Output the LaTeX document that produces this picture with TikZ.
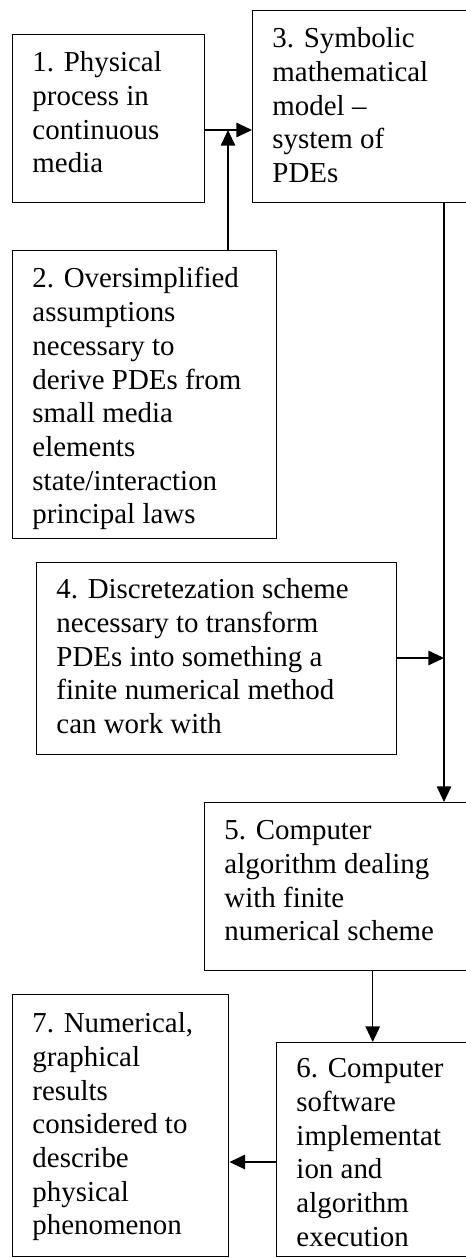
\documentclass[tikz,border=0pt]{standalone}
\usepackage{fontspec}
\setmainfont{Liberation Serif}
\usepackage{tikz}
\usetikzlibrary{positioning,arrows.meta,calc}

\begin{document}
\begin{tikzpicture}[
    x=0.415pt, y=-0.415pt,
    box/.style={draw, line width=0.6pt, anchor=north west, inner sep=0pt},
    boxtext/.style={anchor=north west, inner sep=0pt, align=left, font=\fontsize{12}{14}\selectfont},
    connector/.style={-{Triangle[length=6.5pt, width=6pt]}, line width=0.6pt}
]

% page size, boxes on the right and at the bottom run off the page
\useasboundingbox (0,0) rectangle (466,1258);
\clip (0,0) rectangle (466,1258);

% Box 1 - physical process
\node[box, minimum width=192*0.415pt, minimum height=168*0.415pt] (b1) at (12,34) {};
\node[boxtext] (t1) at (32,51) {1. Physical\\process in\\continuous\\media};

% Box 3 - symbolic model
\node[box, minimum width=228*0.415pt, minimum height=192*0.415pt] (b3) at (252,10) {};
\node[boxtext] (t3) at (272,27) {3. Symbolic\\mathematical\\model --\\system of\\PDEs};

% Box 2 - assumptions
\node[box, minimum width=264*0.415pt, minimum height=288*0.415pt] (b2) at (12,250) {};
\node[boxtext] (t2) at (32,267) {2. Oversimplified\\assumptions\\necessary to\\derive PDEs from\\small media\\elements\\state/interaction\\principal laws};

% Box 4 - discretization
\node[box, minimum width=360*0.415pt, minimum height=192*0.415pt] (b4) at (36,562) {};
\node[boxtext] (t4) at (56,578) {4. Discretezation scheme\\necessary to transform\\PDEs into something a\\finite numerical method\\can work with};

% Box 5 - algorithm
\node[box, minimum width=276*0.415pt, minimum height=168*0.415pt] (b5) at (204,802) {};
\node[boxtext] (t5) at (224,820) {5. Computer\\algorithm dealing\\with finite\\numerical scheme};

% Box 6 - software
\node[box, minimum width=192*0.415pt, minimum height=214*0.415pt] (b6) at (276,1042) {};
\node[boxtext] (t6) at (296,1058) {6. Computer\\software\\implementat\\ion and\\algorithm\\execution};

% Box 7 - results
\node[box, minimum width=216*0.415pt, minimum height=262*0.415pt] (b7) at (12,994) {};
\node[boxtext] (t7) at (32,1012) {7. Numerical,\\graphical\\results\\considered to\\describe\\physical\\phenomenon};

% junctions
\coordinate (j1) at (228,130);
\coordinate (trunk) at (444,658);
\coordinate (j3) at (250,1162);

% connectors
\draw[connector] (b1.east |- j1) -- (b3.west |- j1);
\draw[connector] (b2.north -| j1) -- (j1);
\draw[connector] (b3.south -| trunk) -- (b5.north -| trunk);
\draw[connector] (b4.east |- trunk) -- (trunk);
\draw[connector] (b5.south -| b6.north) -- (b6.north);
\draw[connector] (b6.west |- j3) -- (b7.east |- j3);

\end{tikzpicture}
\end{document}
